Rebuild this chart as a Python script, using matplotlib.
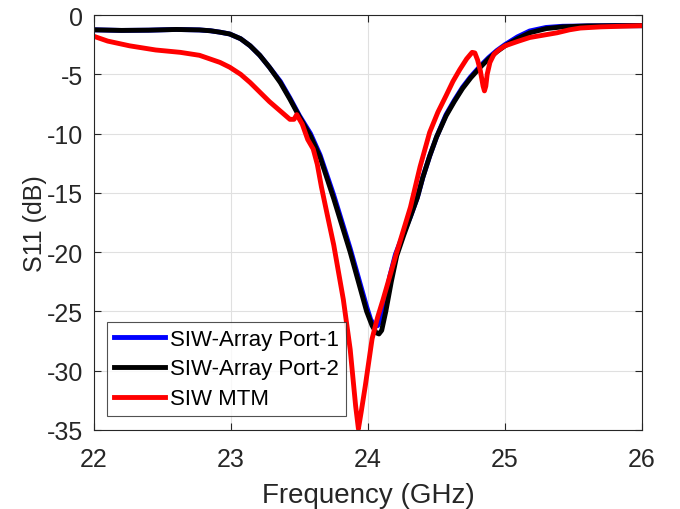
import matplotlib
matplotlib.use("Agg")
import matplotlib.pyplot as plt

plt.rcParams['font.family'] = ['Liberation Sans', 'DejaVu Sans']
plt.rcParams['axes.unicode_minus'] = False

# SIW-Array Port-2 (black)
f_p2 = [22.0, 22.2, 22.4, 22.6, 22.77, 22.85, 22.92, 22.99, 23.07, 23.14, 23.21, 23.28,
        23.36, 23.43, 23.5, 23.58, 23.65, 23.75, 23.87, 23.99, 24.03, 24.06, 24.08, 24.1,
        24.13, 24.17, 24.21, 24.26, 24.31, 24.36, 24.4, 24.45, 24.5, 24.57, 24.63, 24.69,
        24.75, 24.82, 24.88, 24.94, 25.0, 25.09, 25.18, 25.3, 25.42, 25.6, 25.8, 26.0]
s_p2 = [-1.25, -1.3, -1.28, -1.22, -1.26, -1.33, -1.45, -1.6, -2.0, -2.6, -3.4, -4.4,
        -5.7, -7.1, -8.6, -10.2, -12.0, -15.5, -20.0, -25.0, -26.2, -26.8, -26.9, -26.6,
        -25.0, -22.5, -20.3, -18.6, -17.0, -15.4, -13.7, -11.9, -10.3, -8.5, -7.3, -6.2,
        -5.3, -4.4, -3.7, -3.1, -2.6, -2.0, -1.5, -1.15, -1.0, -0.92, -0.9, -0.9]

# SIW-Array Port-1 (blue)
f_p1 = [22.0, 22.2, 22.4, 22.6, 22.77, 22.85, 22.92, 22.99, 23.07, 23.14, 23.21, 23.28,
        23.36, 23.43, 23.5, 23.58, 23.65, 23.75, 23.87, 23.99, 24.02, 24.05, 24.07, 24.09,
        24.12, 24.16, 24.2, 24.26, 24.31, 24.36, 24.4, 24.45, 24.5, 24.57, 24.63, 24.69,
        24.75, 24.82, 24.88, 24.94, 25.0, 25.09, 25.18, 25.3, 25.42, 25.6, 25.8, 26.0]
s_p1 = [-1.25, -1.3, -1.28, -1.22, -1.26, -1.33, -1.45, -1.6, -2.0, -2.6, -3.4, -4.4,
        -5.6, -7.0, -8.5, -10.0, -11.8, -15.2, -19.7, -24.6, -25.7, -26.2, -26.2, -25.8,
        -24.3, -22.0, -20.2, -18.4, -17.0, -15.4, -13.7, -11.9, -10.3, -8.4, -7.2, -6.1,
        -5.2, -4.3, -3.6, -3.0, -2.5, -1.85, -1.35, -1.05, -0.95, -0.92, -0.9, -0.9]

# SIW MTM (red)
f_mtm = [22.0, 22.1, 22.26, 22.45, 22.63, 22.77, 22.92, 22.99, 23.07, 23.14, 23.21, 23.28,
         23.36, 23.43, 23.46, 23.48, 23.52, 23.56, 23.6, 23.63, 23.66, 23.7, 23.75, 23.82,
         23.87, 23.91, 23.93, 23.95, 23.98, 24.03, 24.07, 24.11, 24.16, 24.21, 24.31, 24.38,
         24.45, 24.51, 24.57, 24.62, 24.67, 24.72, 24.76, 24.78, 24.8, 24.82, 24.84, 24.85,
         24.86, 24.87, 24.89, 24.92, 24.96, 25.0, 25.1, 25.18, 25.28, 25.38, 25.47, 25.55,
         25.7, 26.0]
s_mtm = [-1.8, -2.2, -2.6, -2.95, -3.15, -3.4, -4.0, -4.4, -5.0, -5.7, -6.5, -7.3,
         -8.1, -8.8, -8.8, -8.4, -9.2, -10.5, -11.3, -12.6, -14.5, -16.7, -19.4, -24.0,
         -28.2, -33.0, -34.9, -33.5, -31.3, -27.3, -25.5, -24.0, -22.0, -20.0, -16.2, -12.8,
         -9.9, -8.2, -6.8, -5.6, -4.6, -3.7, -3.15, -3.2, -3.8, -4.7, -6.0, -6.4,
         -6.0, -5.0, -4.0, -3.3, -2.9, -2.6, -2.2, -1.9, -1.7, -1.5, -1.25, -1.1,
         -1.0, -0.9]

labels = ['SIW-Array Port-1', 'SIW-Array Port-2', 'SIW MTM']
xticks = [22, 23, 24, 25, 26]
yticks = [0, -5, -10, -15, -20, -25, -30, -35]

fig = plt.figure(figsize=(6.8, 5.1), dpi=100)
ax = fig.add_axes([94/680, 1 - 431/510, (642 - 94)/680, (431 - 16)/510])

ax.plot(f_p1, s_p1, color='#0000ff', lw=3.5, label=labels[0], solid_joinstyle='round')
ax.plot(f_p2, s_p2, color='black', lw=3.5, label=labels[1], solid_joinstyle='round')
ax.plot(f_mtm, s_mtm, color='#ff0000', lw=3.5, label=labels[2], solid_joinstyle='round')

ax.set_xlim(22, 26)
ax.set_ylim(-35, 0)
ax.set_xticks(xticks)
ax.set_yticks(yticks)
ax.grid(True, color='#e0e0e0', lw=0.8)
ax.set_axisbelow(True)
ax.tick_params(direction='in', top=True, right=True, labelsize=18, colors='#262626',
               length=5, width=0.8)
ax.tick_params(axis='x', pad=12)
ax.tick_params(axis='y', pad=8)
for sp in ax.spines.values():
    sp.set_color('#262626')
    sp.set_linewidth(0.8)

ax.set_xlabel('Frequency (GHz)', fontsize=20, color='#262626', labelpad=8)
ax.set_ylabel('S11 (dB)', fontsize=18, color='#262626', labelpad=0)

leg = ax.legend(loc='lower left', fontsize=16, frameon=True, fancybox=False,
                edgecolor='#262626', handlelength=2.3, borderpad=0.3, labelspacing=0.4,
                handletextpad=0.25, borderaxespad=0, bbox_to_anchor=(13/548, 14/415))
leg.get_frame().set_linewidth(0.8)

fig.savefig('out.png', dpi=100)
